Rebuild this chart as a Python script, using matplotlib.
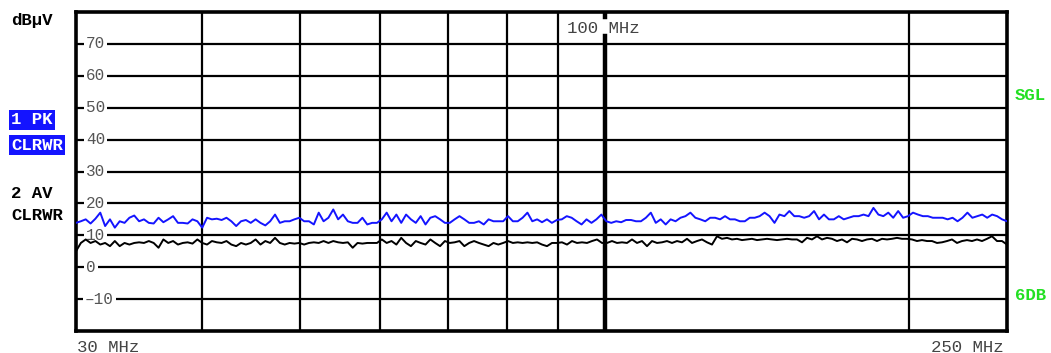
import numpy as np
import matplotlib
matplotlib.use('Agg')
import matplotlib.pyplot as plt

W, H = 1051, 353

F_START, F_STOP = 30, 250          # MHz, log sweep
Y_MIN, Y_MAX = -20, 80             # dBuV
Y_TICKS = [70, 60, 50, 40, 30, 20, 10, 0, -10]
X_GRID = [40, 50, 60, 70, 80, 90, 200]
MARKER_F = 100

# trace 1: peak (blue), 30 MHz -> 250 MHz
PK_LOW = [13.9, 14.4, 15.0, 13.7, 15.2, 17.1, 12.9, 15.0, 12.4, 14.4, 13.9, 15.5, 16.2, 14.4, 15.0,
          13.9, 13.7, 15.5, 14.1, 15.0, 16.0, 13.9, 13.9, 13.7, 15.0, 14.4, 12.4, 15.5, 15.0, 15.2,
          14.8, 15.5, 14.4, 12.9, 14.4, 14.8, 13.9, 15.0, 13.9, 13.1, 14.4, 16.5, 13.9, 14.4, 14.4,
          15.0, 15.5, 14.4, 14.4, 13.4, 17.1, 14.4, 15.5, 18.1, 15.0, 16.5, 14.4, 13.9, 13.9, 15.5,
          13.4, 13.9, 13.9, 15.0, 17.1, 14.4, 16.5, 13.9, 16.5, 15.0, 13.9, 16.0, 13.4, 15.5, 16.0,
          15.0, 13.9, 13.9, 15.0, 16.0, 15.0, 13.9, 13.9, 14.4, 13.4, 15.0, 14.4, 14.4, 14.4, 16.0,
          14.4, 14.4, 15.5, 17.1, 14.4, 15.0]
PK_HIGH = [14.1, 15.0, 13.9, 14.8, 15.0, 16.0, 15.5, 14.4, 13.4, 15.0, 13.9, 15.0, 16.5, 14.4, 13.9,
           14.4, 14.1, 14.8, 14.8, 14.4, 14.4, 15.5, 17.1, 13.9, 15.0, 13.4, 15.0, 14.4, 15.5, 16.0,
           17.1, 15.5, 15.0, 14.4, 15.5, 15.5, 15.0, 16.0, 15.0, 15.0, 14.4, 14.4, 15.5, 15.5, 16.0,
           17.1, 16.0, 13.9, 16.5, 16.0, 17.6, 16.0, 16.0, 15.5, 16.0, 17.6, 15.0, 16.5, 15.0, 15.0,
           16.0, 15.0, 15.5, 16.0, 16.0, 16.5, 16.0, 18.6, 16.5, 16.0, 17.1, 15.5, 17.6, 15.5, 16.0,
           17.1, 16.5, 16.0, 16.0, 15.5, 15.5, 15.5, 15.0, 15.5, 14.4, 15.5, 17.1, 15.5, 16.0, 16.5,
           15.5, 16.5, 16.0, 15.0, 14.4]

# trace 2: average (black)
AV_LOW = [5.0, 7.6, 8.7, 7.6, 8.2, 7.1, 7.6, 6.6, 8.2, 6.6, 7.6, 7.1, 7.6, 7.8, 7.6, 8.2, 7.6, 6.1,
          8.7, 7.6, 8.2, 7.1, 7.6, 7.8, 7.4, 8.7, 7.6, 7.1, 8.2, 7.8, 7.6, 8.2, 7.1, 6.6, 7.6, 7.1,
          7.6, 8.7, 7.1, 8.2, 7.6, 9.2, 7.6, 7.1, 7.6, 7.4, 7.6, 7.1, 7.6, 7.8, 7.6, 8.2, 7.6, 8.2,
          7.8, 7.6, 7.8, 6.1, 7.6, 7.4, 7.6, 7.6, 7.6, 8.7, 7.6, 8.2, 7.1, 9.2, 7.6, 6.6, 8.2, 7.6,
          7.1, 8.7, 7.6, 6.6, 8.2, 7.6, 7.8, 8.2, 6.6, 7.6, 8.2, 7.6, 7.1, 6.6, 7.6, 7.1, 7.6, 8.2,
          7.6, 7.8, 7.6, 7.8, 7.6, 7.8]
AV_HIGH = [7.1, 6.6, 7.6, 7.6, 7.8, 7.1, 8.2, 7.6, 7.8, 7.6, 8.2, 8.7, 7.6, 7.6, 8.2, 7.6, 7.8, 7.6,
           8.7, 7.6, 8.2, 6.6, 8.2, 7.6, 7.8, 8.2, 7.6, 8.2, 7.8, 8.9, 7.6, 8.2, 8.7, 7.8, 7.1, 9.7,
           8.9, 9.2, 8.7, 8.9, 8.5, 8.7, 8.9, 8.5, 8.7, 8.9, 8.7, 8.5, 8.7, 8.9, 8.7, 8.7, 7.8, 9.2,
           8.7, 9.7, 8.7, 9.2, 8.9, 8.2, 8.7, 7.8, 8.9, 8.7, 8.2, 8.7, 8.9, 8.2, 8.9, 8.7, 8.9, 9.2,
           8.9, 8.9, 8.7, 8.2, 8.5, 8.2, 8.2, 7.6, 7.8, 8.2, 8.7, 7.6, 8.2, 8.5, 8.2, 8.7, 8.2, 8.9,
           9.7, 8.2, 8.2, 7.1]

MONO = 'Liberation Mono'
BLUE = '#1414ff'
GREEN = '#22e022'
GREY = '#444444'


def px(x, y):
    ''' pixel position (from top-left) -> figure fraction '''
    return x / W, 1 - y / H


def sweep(low, high):
    ''' the two halves were read either side of ~82 MHz; place them on the log sweep '''
    f_split = F_START * (F_STOP / F_START) ** ((542 - 76) / 931)
    f1 = np.geomspace(F_START, f_split, len(low), endpoint=False)
    f2 = np.geomspace(f_split, F_STOP, len(high))
    return np.concatenate([f1, f2]), np.array(low + high)


fig = plt.figure(figsize=(W / 100, H / 100), dpi=100)
ax = fig.add_axes([76 / W, 1 - 331 / H, 931 / W, 319 / H])
ax.set_xscale('log')
ax.set_xlim(F_START, F_STOP)
ax.set_ylim(Y_MIN, Y_MAX)
ax.set_xticks([])
ax.set_yticks([])
ax.minorticks_off()
for s in ax.spines.values():
    s.set_linewidth(2.6)
    s.set_color('black')

# graticule
for y in Y_TICKS:
    ax.axhline(y, color='black', lw=1.6, zorder=1)
for f in X_GRID:
    ax.axvline(f, color='black', lw=1.6, zorder=1)
ax.plot([MARKER_F, MARKER_F], [Y_MIN, 72.6], color='black', lw=3.2, zorder=1)
ax.plot([MARKER_F, MARKER_F], [78.4, Y_MAX], color='black', lw=3.2, zorder=1)
ax.text(0.527, 74.8, '100 MHz', family=MONO, fontsize=12.5, color=GREY,
        ha='left', va='center', transform=ax.get_yaxis_transform())

# y labels sit on the grid lines
ytr = ax.get_yaxis_transform()
for y in Y_TICKS:
    lab = str(y) if y >= 0 else '\u2013' + str(-y)
    xpos = 0.0107 if y >= 0 else 0.0095
    ax.text(xpos, y, lab, family=MONO, fontsize=11.5, color='#555555', ha='left', va='center',
            transform=ytr, zorder=2,
            bbox=dict(boxstyle='square,pad=0.12', fc='white', ec='none'))

fpk, pk = sweep(PK_LOW, PK_HIGH)
fav, av = sweep(AV_LOW, AV_HIGH)
ax.plot(fpk, pk, color=BLUE, lw=1.4, zorder=3)
ax.plot(fav, av, color='black', lw=1.4, zorder=3)

# annotations round the screen
bold = dict(family=MONO, weight='bold', fontsize=12.5, va='center')
fig.text(*px(11, 20), 'dB\u00b5V', **bold)
fig.text(*px(11, 120), '1 PK', color='white',
         bbox=dict(boxstyle='square,pad=0.12', fc=BLUE, ec='none'), **bold)
fig.text(*px(11, 145), 'CLRWR', color='white',
         bbox=dict(boxstyle='square,pad=0.12', fc=BLUE, ec='none'), **bold)
fig.text(*px(11, 193), '2 AV', **bold)
fig.text(*px(11, 216), 'CLRWR', **bold)
fig.text(*px(1015, 95), 'SGL', color=GREEN, **bold)
fig.text(*px(1015, 296), '6DB', color=GREEN, **bold)
fig.text(*px(77, 347), '30 MHz', family=MONO, fontsize=12.5, va='center', color=GREY)
fig.text(*px(1004, 347), '250 MHz', family=MONO, fontsize=12.5, va='center', ha='right', color=GREY)

fig.savefig('out.png', dpi=100)
